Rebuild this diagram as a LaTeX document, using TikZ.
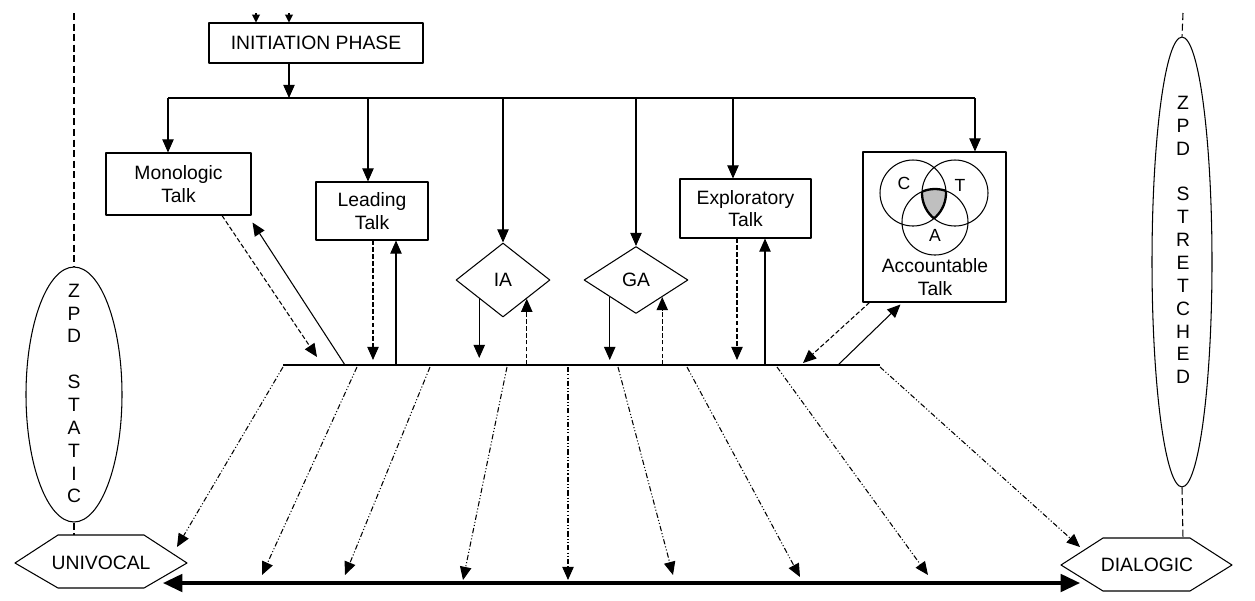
\documentclass[tikz,border=0pt]{standalone}
\usepackage{fontspec}
\setmainfont{Liberation Sans}
\usetikzlibrary{arrows.meta,shapes.geometric}

\begin{document}
\begin{tikzpicture}[x=0.02cm,y=-0.02cm,line join=round,
	font=\fontsize{11}{13}\selectfont,
	>={Triangle[length=7.5pt,width=6.5pt]},
	every node/.style={inner sep=0pt},
	box/.style={draw,line width=0.6pt,align=center},
	dmd/.style={draw,diamond,line width=0.6pt},
	zpd/.style={draw,ellipse,line width=0.6pt},
	arr/.style={->,line width=0.6pt},
	dsh/.style={->,line width=0.6pt,dash pattern=on 2.6pt off 1.3pt},
	dd/.style={->,line width=0.6pt,dash pattern=on 3pt off 1.2pt on 0.6pt off 1.2pt on 0.6pt off 1.2pt},
	vd/.style={line width=0.6pt,dash pattern=on 4pt off 2pt},
	bus/.style={line width=1.3pt}]
\useasboundingbox (0,0) rectangle (1255,600);
% boxes
\node[box,minimum width=4.28cm,minimum height=0.8cm] (init) at (316,43) {INITIATION PHASE};
\node[box,minimum width=2.9cm,minimum height=1.24cm] (mono) at (178.5,184) {Monologic\\Talk};
\node[box,minimum width=2.24cm,minimum height=1.16cm] (lead) at (372,211) {Leading\\Talk};
\node[box,minimum width=2.62cm,minimum height=1.18cm] (expl) at (745.5,208.5) {Exploratory\\Talk};
\node[box,minimum width=2.86cm,minimum height=3cm] (acct) at (934.5,227) {};
\node[align=center] (acctxt) at (935,277) {Accountable\\Talk};
\node[dmd,minimum width=1.88cm,minimum height=1.48cm] (ia) at (503,280) {IA};
\node[dmd,minimum width=2.08cm,minimum height=1.34cm] (ga) at (636,280) {GA};
% ZPD ellipses
\node[zpd,minimum width=1.92cm,minimum height=5.1cm] (ellL) at (74,394.5) {};
\node[align=center] (zpdL) at (74,393.5) {Z\\P\\D\\[13pt]S\\T\\A\\T\\I\\C};
\node[zpd,minimum width=1.2cm,minimum height=9cm] (ellR) at (1182,262) {};
\node[align=center] (zpdR) at (1183,240) {Z\\P\\D\\[13pt]S\\T\\R\\E\\T\\C\\H\\E\\D};
% hexagons
\draw[line width=0.6pt] (15,563) -- (58,535) -- (144,535) -- (187,563) -- (144,588) -- (58,588) -- cycle;
\node (univ) at (101,563) {UNIVOCAL};
\draw[line width=0.6pt] (1061,565) -- (1103,538) -- (1190,538) -- (1232,565) -- (1190,591) -- (1103,591) -- cycle;
\node (dial) at (1147,565) {DIALOGIC};
\coordinate (lt) at (74,13);
\coordinate (uT) at (74,535);
\coordinate (rt) at (1183,13);
\coordinate (dT) at (1183,538);
\draw[vd] (lt) -- (ellL.north) (ellL.south) -- (uT);
\draw[vd] (rt) -- (ellR.north) (ellR.south) -- (dT);
% venn
\coordinate (vC) at (913,193);
\coordinate (vT) at (955,193);
\coordinate (vA) at (935,222);
\begin{scope}
	\clip (vC) circle[radius=33];
	\clip (vT) circle[radius=33];
	\fill[black!25] (vA) circle[radius=33];
\end{scope}
\foreach \p/\q/\r in {vC/vT/vA, vC/vA/vT, vT/vA/vC}
	{\begin{scope}
	\clip (\p) circle[radius=33];
	\clip (\q) circle[radius=33];
	\draw[line width=1.3pt] (\r) circle[radius=33];
	\end{scope}}
\draw[line width=0.6pt] (vC) circle[radius=33] (vT) circle[radius=33] (vA) circle[radius=33];
\node[font=\fontsize{10}{12}\selectfont] (lC) at (904,183) {C};
\node[font=\fontsize{10}{12}\selectfont] (lT) at (960,185) {T};
\node[font=\fontsize{10}{12}\selectfont] (lA) at (935,235) {A};
% top arrows and bus
\coordinate (p1) at (256,13);
\coordinate (p2) at (289,13);
\draw[-{Triangle[length=4.5pt,width=4.5pt]},line width=0.6pt] (p1) -- (p1 |- init.north);
\draw[-{Triangle[length=4.5pt,width=4.5pt]},line width=0.6pt] (p2) -- (p2 |- init.north);
\coordinate (b0) at (289,98);
\coordinate (b1) at (168,98);
\coordinate (b2) at (368,98);
\coordinate (b3) at (503,98);
\coordinate (b4) at (636,98);
\coordinate (b5) at (733,98);
\coordinate (b6) at (975,98);
\draw[bus] (b1) -- (b6);
\draw[arr] (init.south -| b0) -- (b0);
\foreach \b/\n in {b1/mono,b2/lead,b3/ia,b4/ga,b5/expl,b6/acct}
	\draw[arr] (\b) -- (\b |- \n.north);
% middle line
\coordinate (mL) at (283,365);
\coordinate (mR) at (880,365);
\draw[bus] (mL) -- (mR);
\coordinate (m1) at (317,357);
\coordinate (m2) at (345,365);
\coordinate (l1) at (373,360);
\coordinate (l2) at (396,365);
\coordinate (i1) at (477,358);
\coordinate (i2) at (530,365);
\coordinate (g1) at (617,360);
\coordinate (g2) at (662,365);
\coordinate (e1) at (737,360);
\coordinate (e2) at (765,365);
\coordinate (a1) at (803,363);
\coordinate (a2) at (838,365);
\draw[dsh] ([xshift=0.87cm]mono.south) -- (m1);
\draw[arr] (m2) -- ([xshift=0.02cm,yshift=-0.14cm]mono.south east);
\draw[dsh] (lead.south -| l1) -- (l1);
\draw[arr] (l2) -- (lead.south -| l2);
\draw[arr] (ia.south west) -- (ia.south west |- i1);
\draw[dsh] (ia.south east |- i2) -- (ia.south east);
\draw[arr] (ga.south west) -- (ga.south west |- g1);
\draw[dsh] (ga.south east |- g2) -- (ga.south east);
\draw[dsh] (expl.south -| e1) -- (e1);
\draw[arr] (e2) -- (expl.south -| e2);
\draw[dsh] ([xshift=0.14cm]acct.south west) -- (a1);
\draw[arr] (a2) -- ([xshift=0.76cm,yshift=-0.04cm]acct.south west);
% to the bottom scale
\foreach \i/\sx/\tx/\ty in {1/283/177/547, 2/357/262/575, 3/430/345/575, 4/507/463/580,
	5/568/568/580, 6/618/673/575, 7/687/800/577, 8/777/928/575, 9/880/1080/547}
	{\coordinate (s\i) at (\sx,367);
	\coordinate (t\i) at (\tx,\ty);
	\draw[dd] (s\i) -- (t\i);}
\coordinate (ub) at (163,583);
\coordinate (db) at (1080,583);
\draw[line width=1.8pt,{Triangle[length=11pt,width=10pt]}-{Triangle[length=11pt,width=10pt]}] (ub) -- (db);
\end{tikzpicture}
\end{document}
